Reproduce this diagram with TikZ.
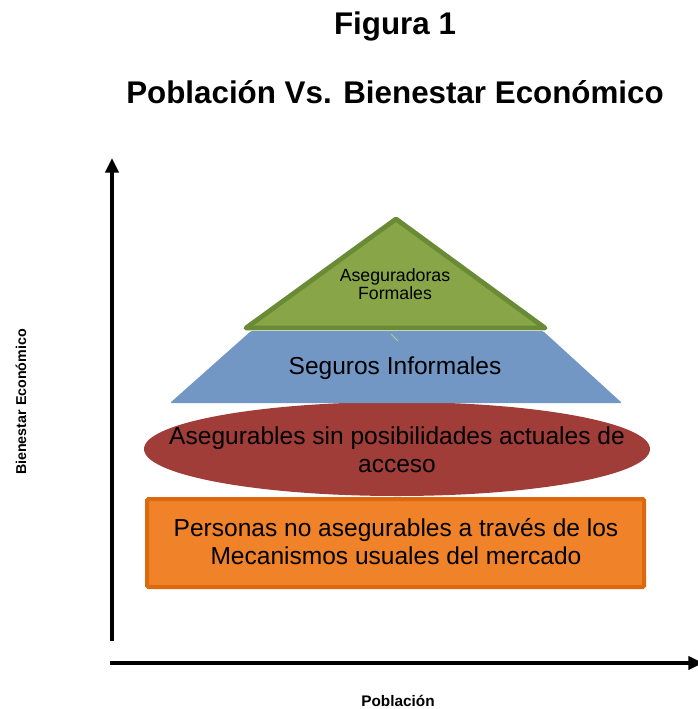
\documentclass[tikz,border=0pt]{standalone}
\usepackage{fontspec}
\setmainfont{Liberation Sans}
\usetikzlibrary{arrows.meta}
\definecolor{verdeA}{HTML}{88A548}
\definecolor{verdeB}{HTML}{6A8B36}
\definecolor{azulI}{HTML}{7397C5}
\definecolor{rojoE}{HTML}{A03D38}
\definecolor{naranjaP}{HTML}{F0822A}
\definecolor{naranjaB}{HTML}{DD690F}
\begin{document}
\begin{tikzpicture}[x=0.75pt,y=-0.75pt,
	eje/.style={line width=2.4pt,-{Triangle[length=11pt,width=10pt]}},
	texto/.style={align=center,font=\fontsize{18.4}{21}\selectfont},
	titulo/.style={font=\bfseries\fontsize{23.5}{28}\selectfont,anchor=base}]
	\useasboundingbox (0,0) rectangle (697,709);
	% titulos
	\node[titulo](figura) at (395,35) {Figura 1};
	\node[titulo](subtitulo) at (395,104) {Población Vs. Bienestar Económico};
	% ejes
	\coordinate (origen) at (112,641);
	\coordinate (arriba) at (112,158);
	\coordinate (izq) at (110,663);
	\coordinate (der) at (703,663);
	\draw[eje] (origen) -- (arriba);
	\draw[eje] (izq) -- (der);
	\node[font=\bfseries\fontsize{10.7}{13}\selectfont,rotate=90](bienestar)
		at (21,402) {Bienestar Económico};
	\node[font=\bfseries\fontsize{11.5}{14}\selectfont](poblacion)
		at (398,701) {Población};
	% base: rectangulo
	\filldraw[fill=naranjaP,draw=naranjaB,line width=3pt,rounded corners=1pt]
		(147,499) rectangle (644,587);
	\node[texto](personas) at (396,542)
		{Personas no asegurables a través de los\\Mecanismos usuales del mercado};
	% elipse
	\fill[rojoE] (397,449) ellipse [x radius=253,y radius=47];
	\node[texto](asegurables) at (397,450)
		{Asegurables sin posibilidades actuales de\\acceso};
	% trapecio
	\fill[azulI,rounded corners=1pt] (251,331) -- (543,331) -- (622,403)
		-- (170,403) -- cycle;
	\draw[verdeA!60!white,line width=0.6pt] (391,334) -- (398,341);
	\node[texto](seguros) at (395,368) {Seguros Informales};
	% triangulo
	\filldraw[fill=verdeA,draw=verdeB,line width=3.6pt,line join=round]
		(396,219) -- (545,328) -- (246,328) -- cycle;
	\node[align=center,font=\fontsize{13.3}{13.5}\selectfont](aseguradoras)
		at (395,284) {Aseguradoras\\Formales};
\end{tikzpicture}
\end{document}
